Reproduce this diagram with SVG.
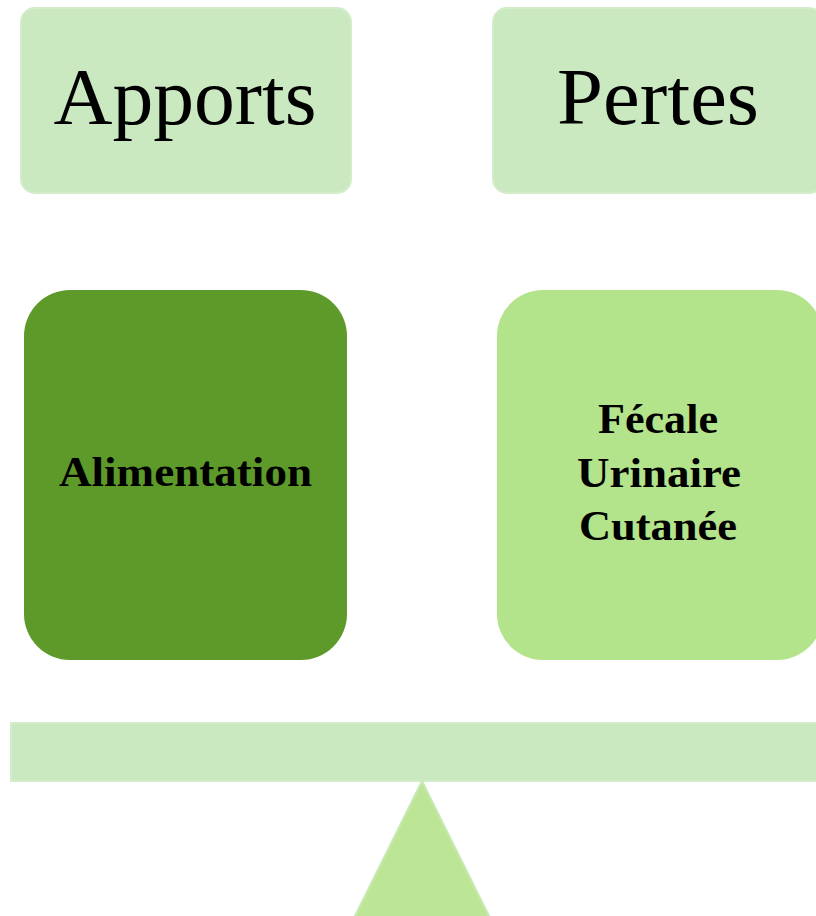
<svg xmlns="http://www.w3.org/2000/svg" width="816" height="916" viewBox="0 0 816 916">
<style>
.title{font-family:"Liberation Serif",Georgia,serif;font-size:81px;fill:#000;text-anchor:middle}
.lbl{font-family:"Liberation Serif",Georgia,serif;font-size:42px;font-weight:bold;fill:#000;text-anchor:middle}
.pale{fill:#CBE9C1;stroke:#D3EDCA;stroke-width:2}
</style>
<rect width="816" height="916" fill="#FFFFFF"/>
<g id="apports">
<rect class="pale" x="21" y="8" width="330" height="185" rx="14"/>
<text class="title" x="185" y="124" textLength="263" lengthAdjust="spacingAndGlyphs">Apports</text>
</g>
<g id="pertes">
<rect class="pale" x="493" y="8" width="330" height="185" rx="14"/>
<text class="title" x="658" y="124" textLength="202" lengthAdjust="spacingAndGlyphs">Pertes</text>
</g>
<g id="alimentation">
<rect x="24" y="290" width="323" height="370" rx="46" fill="#5E9A2A"/>
<text class="lbl" x="185.5" y="486" textLength="253" lengthAdjust="spacingAndGlyphs">Alimentation</text>
</g>
<g id="pertes-detail">
<rect x="497" y="290" width="326" height="370" rx="46" fill="#B3E38A"/>
<text class="lbl" x="658" y="433" textLength="120" lengthAdjust="spacingAndGlyphs">Fécale</text>
<text class="lbl" x="659" y="487" textLength="164" lengthAdjust="spacingAndGlyphs">Urinaire</text>
<text class="lbl" x="658" y="540" textLength="158" lengthAdjust="spacingAndGlyphs">Cutanée</text>
</g>
<g id="balance">
<rect class="pale" x="11" y="723" width="815" height="58"/>
<polygon points="422,781 348,930 496,930" fill="#BCE595" stroke="#C8EAB5" stroke-width="2"/>
</g>
<g id="connectors"></g>
</svg>
